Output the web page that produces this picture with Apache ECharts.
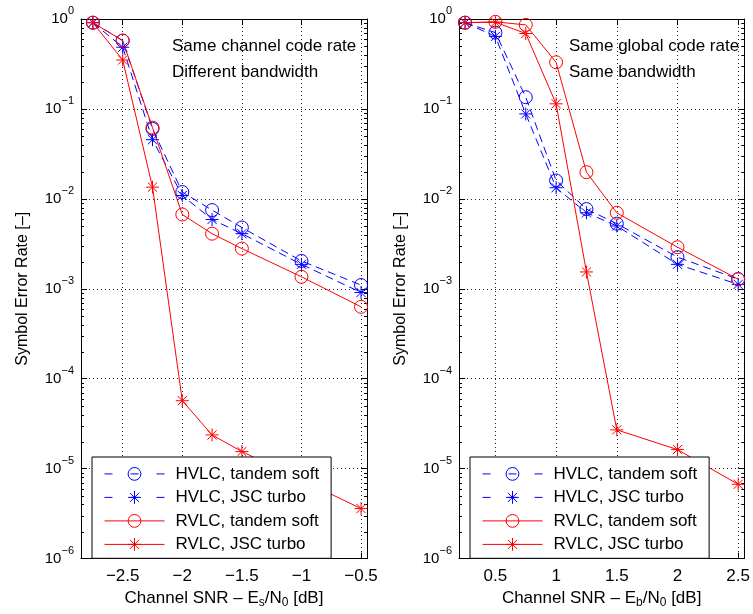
<!DOCTYPE html>
<html><head><meta charset="utf-8">
<script src="https://cdn.jsdelivr.net/npm/echarts@6/dist/echarts.min.js"></script>
<style>html,body{margin:0;padding:0;background:#fff}#c{width:753px;height:614px}</style>
</head><body><div id="c"></div>
<script>
// ---- data ----
const xLeft = [-2.75, -2.5, -2.25, -2, -1.75, -1.5, -1, -0.5];
const leftHvlcTandem = [0.91, 0.575, 0.060, 0.0119, 0.0075, 0.0048, 0.00204, 0.0011];
const leftHvlcJsc    = [0.91, 0.485, 0.0455, 0.0109, 0.0059, 0.0041, 0.00187, 0.00091];
const leftRvlcTandem = [0.91, 0.575, 0.062, 0.0067, 0.0041, 0.0028, 0.00136, 0.00063];
const leftRvlcJsc    = [0.91, 0.35, 0.0135, 5.7e-5, 2.37e-5, 1.55e-5, 7.5e-6, 3.6e-6];

const xRight = [0.25, 0.5, 0.75, 1, 1.25, 1.5, 2, 2.5];
const rightHvlcTandem = [0.91, 0.706, 0.135, 0.016, 0.0077, 0.0053, 0.00225, 0.00128];
const rightHvlcJsc    = [0.91, 0.64, 0.088, 0.0133, 0.0070, 0.0050, 0.00187, 0.00112];
const rightRvlcTandem = [0.91, 0.93, 0.86, 0.33, 0.0198, 0.0070, 0.0029, 0.00128];
const rightRvlcJsc    = [0.91, 0.92, 0.69, 0.114, 0.00154, 2.7e-5, 1.63e-5, 6.7e-6];

const seriesNames = ['HVLC, tandem soft', 'HVLC, JSC turbo', 'RVLC, tandem soft', 'RVLC, JSC turbo'];
const leftNotes = ['Same channel code rate', 'Different bandwidth'];
const rightNotes = ['Same global code rate', 'Same bandwidth'];

// axis extents and minor-tick structure of the log axis
const xRangeLeft = [-2.85, -0.45];
const xRangeRight = [0.2, 2.55];
const decades = [1e-6, 1e-5, 1e-4, 1e-3, 1e-2, 1e-1];
const minorMantissas = [2, 3, 4, 5, 6, 7, 8, 9];

// ---- style ----
const FONT = 'Liberation Sans, Arial, Helvetica, sans-serif';
const BLUE = '#0000ff', RED = '#ff0000';
const STAR = 'path://M0,-10L0,10M-10,0L10,0M-7.07,-7.07L7.07,7.07M-7.07,7.07L7.07,-7.07';
const styles = [
  {color: BLUE, symbol: 'circle', dash: [8, 5]},
  {color: BLUE, symbol: STAR, dash: [8, 5]},
  {color: RED, symbol: 'circle', dash: 'solid'},
  {color: RED, symbol: STAR, dash: 'solid'}
];

function mkSeries(gi, xs, ys, k) {
  const st = styles[k];
  return {
    type: 'line', name: seriesNames[k], xAxisIndex: gi * 2, yAxisIndex: gi * 2,
    data: xs.map((x, i) => [x, ys[i]]),
    symbol: st.symbol, symbolSize: 13, showAllSymbol: true, animation: false,
    lineStyle: {color: st.color, width: 1, type: st.dash},
    itemStyle: {color: 'none', borderColor: st.color, borderWidth: 1},
    emphasis: {disabled: true}, z: 2
  };
}

const minorValues = [];
decades.forEach(d => minorMantissas.forEach(m => minorValues.push(+(m * d).toPrecision(3))));

function minorTickSeries(gi, range) {
  return {
    type: 'custom', xAxisIndex: gi * 2, yAxisIndex: gi * 2, silent: true, clip: false, z: 1,
    data: minorValues.map(v => [range[0], v]),
    renderItem: (params, api) => {
      const v = api.value(1);
      const p1 = api.coord([range[0], v]);
      const p2 = api.coord([range[1], v]);
      const y = Math.round(p1[1]) + 0.5;
      const st = {stroke: '#000', lineWidth: 1};
      return {type: 'group', children: [
        {type: 'line', shape: {x1: p1[0], y1: y, x2: p1[0] + 3, y2: y}, style: st},
        {type: 'line', shape: {x1: p2[0] - 3, y1: y, x2: p2[0], y2: y}, style: st}
      ]};
    }
  };
}

const minus = s => String(s).replace('-', '\u2212');

function xAxes(gi, range, nameRich) {
  const base = {type: 'value', gridIndex: gi, min: range[0], max: range[1], splitNumber: 5,
    axisLine: {show: true, onZero: false, lineStyle: {color: '#000', width: 1}},
    axisTick: {show: true, inside: true, length: 6, lineStyle: {color: '#000'}}};
  return [
    Object.assign({}, base, {position: 'bottom',
      name: nameRich, nameLocation: 'middle', nameGap: 28,
      nameTextStyle: {fontFamily: FONT, fontSize: 17, color: '#000',
        rich: {n: {fontFamily: FONT, fontSize: 17, color: '#000'},
               sub: {fontFamily: FONT, fontSize: 12, color: '#000', padding: [10, 0, 0, 0]}}},
      axisLabel: {show: true, showMinLabel: false, showMaxLabel: false, margin: 9,
        fontFamily: FONT, fontSize: 17, color: '#000', formatter: v => minus(v)},
      splitLine: {show: true, lineStyle: {color: '#222', width: 1, type: [1, 3]}}}),
    Object.assign({}, base, {position: 'top', axisLabel: {show: false}, splitLine: {show: false}})
  ];
}

function yAxes(gi) {
  const base = {type: 'log', logBase: 10, gridIndex: gi, min: 1e-6, max: 1,
    axisLine: {show: true, lineStyle: {color: '#000', width: 1}},
    axisTick: {show: true, inside: true, length: 6, lineStyle: {color: '#000'}},
    minorTick: {show: false}};
  return [
    Object.assign({}, base, {position: 'left',
      name: 'Symbol Error Rate [\u2013]', nameLocation: 'middle', nameGap: 50,
      nameTextStyle: {fontFamily: FONT, fontSize: 16, color: '#000'},
      axisLabel: {show: true, margin: 7, fontFamily: FONT, color: '#000',
        formatter: v => '{b|10}{s|' + minus(Math.round(Math.log10(v))) + '}',
        rich: {b: {fontFamily: FONT, fontSize: 15, color: '#000'},
               s: {fontFamily: FONT, fontSize: 11, color: '#000', padding: [0, 0, 16, 0]}}},
      splitLine: {show: true, lineStyle: {color: '#222', width: 1, type: [1, 3]}}}),
    Object.assign({}, base, {position: 'right', axisLabel: {show: false}, splitLine: {show: false}})
  ];
}

function legend(left) {
  return {
    orient: 'vertical', left, top: 457, z: 20,
    backgroundColor: '#fff', borderColor: '#000', borderWidth: 1, borderRadius: 0,
    padding: [8, 12, 5, 12], itemWidth: 60, itemHeight: 16, itemGap: 5.7,
    selectedMode: false,
    textStyle: {fontFamily: FONT, fontSize: 17, color: '#000', padding: [0, 0, 0, 6]},
    data: seriesNames.map((n, k) => ({name: n,
      itemStyle: {color: 'none', borderColor: styles[k].color, borderWidth: 1},
      lineStyle: {color: styles[k].color, width: 1,
        type: styles[k].dash === 'solid' ? 'solid' : [8, 18]}}))
  };
}

function notes(x, arr) {
  return arr.map((t, i) => ({type: 'text', x, y: 46 + i * 26.5,
    style: {text: t, font: '17px ' + FONT, fill: '#000', verticalAlign: 'middle'}}));
}

const xNameL = '{n|Channel SNR \u2013 E}{sub|s}{n|/N}{sub|0}{n| [dB]}';
const xNameR = '{n|Channel SNR \u2013 E}{sub|b}{n|/N}{sub|0}{n| [dB]}';

const option = {
  animation: false,
  backgroundColor: '#fff',
  grid: [
    {left: 81, top: 19, width: 286, height: 541},
    {left: 459, top: 19, width: 287, height: 541}
  ],
  xAxis: [...xAxes(0, xRangeLeft, xNameL), ...xAxes(1, xRangeRight, xNameR)],
  yAxis: [...yAxes(0), ...yAxes(1)],
  legend: [legend(92), legend(470)],
  series: [
    mkSeries(0, xLeft, leftHvlcTandem, 0),
    mkSeries(0, xLeft, leftHvlcJsc, 1),
    mkSeries(0, xLeft, leftRvlcTandem, 2),
    mkSeries(0, xLeft, leftRvlcJsc, 3),
    mkSeries(1, xRight, rightHvlcTandem, 0),
    mkSeries(1, xRight, rightHvlcJsc, 1),
    mkSeries(1, xRight, rightRvlcTandem, 2),
    mkSeries(1, xRight, rightRvlcJsc, 3),
    minorTickSeries(0, xRangeLeft),
    minorTickSeries(1, xRangeRight)
  ],
  graphic: [...notes(172, leftNotes), ...notes(569, rightNotes)]
};
const chart = echarts.init(document.getElementById('c'));
chart.setOption(option);
</script></body></html>
